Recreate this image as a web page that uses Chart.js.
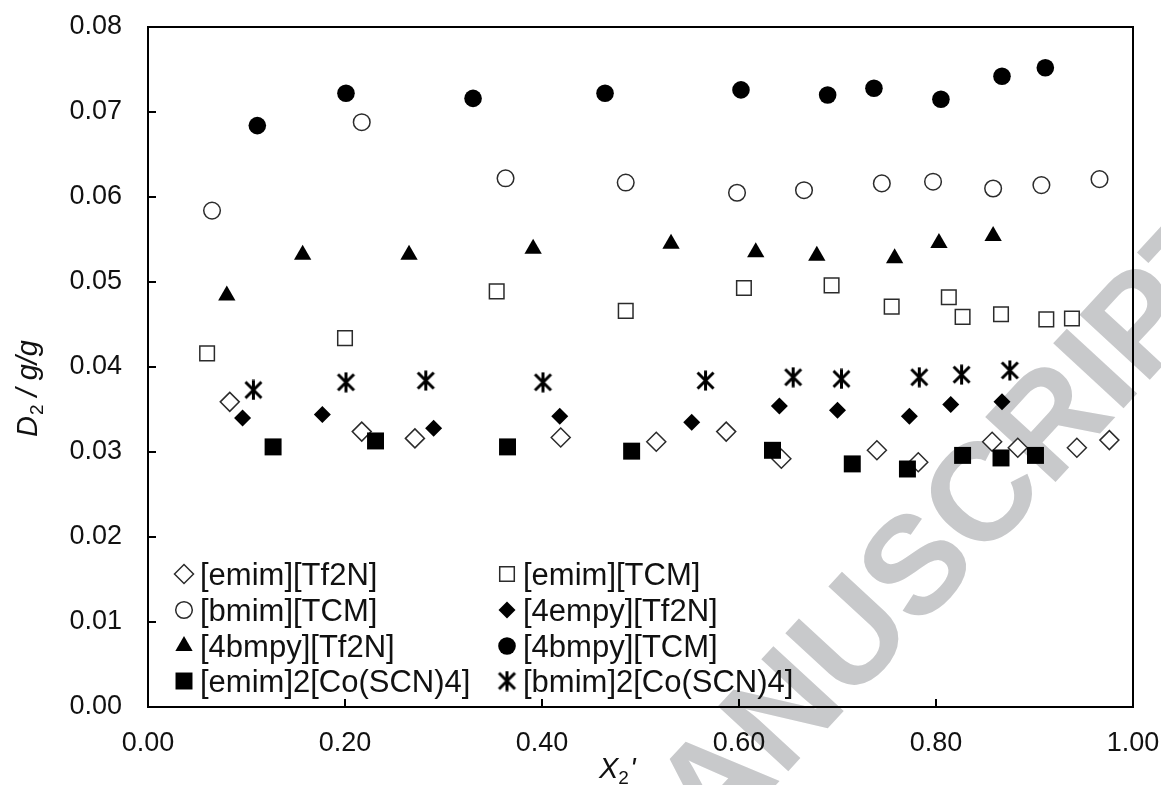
<!DOCTYPE html>
<html>
<head>
<meta charset="utf-8">
<title>D2 vs X2'</title>
<script src="https://cdn.jsdelivr.net/npm/chart.js@4.4.1/dist/chart.umd.min.js"></script>
<style>
  html, body { margin: 0; padding: 0; background: #fff; }
  #wrap { width: 1161px; height: 785px; position: relative; }
</style>
</head>
<body>
<div id="wrap"><canvas id="diffChart"></canvas></div>
<script>
// Legend names (same order as the legend, read row by row)
const seriesNames = ['[emim][Tf2N]', '[emim][TCM]', '[bmim][TCM]', '[4empy][Tf2N]',
                     '[4bmpy][Tf2N]', '[4bmpy][TCM]', '[emim]2[Co(SCN)4]', '[bmim]2[Co(SCN)4]'];

// Axis ticks
const xTicks = [0.00, 0.20, 0.40, 0.60, 0.80, 1.00];
const yTicks = [0.00, 0.01, 0.02, 0.03, 0.04, 0.05, 0.06, 0.07, 0.08];

// [emim][Tf2N]  open diamond
const emimTf2N_x = [0.083, 0.217, 0.271, 0.419, 0.516, 0.587, 0.643, 0.740, 0.782, 0.857, 0.883, 0.943, 0.976];
const emimTf2N_y = [0.0359, 0.0324, 0.0316, 0.0317, 0.0312, 0.0324, 0.0292, 0.0302, 0.0288, 0.0312, 0.0305, 0.0305, 0.0314];
// [emim][TCM]  open square
const emimTCM_x = [0.060, 0.200, 0.354, 0.485, 0.605, 0.694, 0.755, 0.813, 0.827, 0.866, 0.912, 0.938];
const emimTCM_y = [0.0416, 0.0434, 0.0489, 0.0466, 0.0493, 0.0496, 0.0471, 0.0482, 0.0459, 0.0462, 0.0456, 0.0457];
// [bmim][TCM]  open circle
const bmimTCM_x = [0.065, 0.217, 0.363, 0.485, 0.598, 0.666, 0.745, 0.797, 0.858, 0.907, 0.966];
const bmimTCM_y = [0.0584, 0.0688, 0.0622, 0.0617, 0.0605, 0.0608, 0.0616, 0.0618, 0.0610, 0.0614, 0.0621];
// [4empy][Tf2N]  filled diamond
const empyTf2N_x = [0.096, 0.177, 0.290, 0.418, 0.552, 0.641, 0.700, 0.773, 0.815, 0.867];
const empyTf2N_y = [0.0340, 0.0344, 0.0328, 0.0342, 0.0335, 0.0354, 0.0349, 0.0342, 0.0356, 0.0359];
// [4bmpy][Tf2N]  filled triangle
const bmpyTf2N_x = [0.080, 0.157, 0.265, 0.391, 0.531, 0.617, 0.679, 0.758, 0.803, 0.858];
const bmpyTf2N_y = [0.0484, 0.0532, 0.0532, 0.0539, 0.0545, 0.0535, 0.0531, 0.0528, 0.0546, 0.0554];
// [4bmpy][TCM]  filled circle
const bmpyTCM_x = [0.111, 0.201, 0.330, 0.464, 0.602, 0.690, 0.737, 0.805, 0.867, 0.911];
const bmpyTCM_y = [0.0684, 0.0722, 0.0716, 0.0722, 0.0726, 0.0720, 0.0728, 0.0715, 0.0742, 0.0752];
// [emim]2[Co(SCN)4]  filled square
const emimCo_x = [0.127, 0.231, 0.365, 0.491, 0.634, 0.715, 0.771, 0.827, 0.866, 0.901];
const emimCo_y = [0.0306, 0.0313, 0.0306, 0.0301, 0.0302, 0.0286, 0.0280, 0.0296, 0.0293, 0.0296];
// [bmim]2[Co(SCN)4]  asterisk
const bmimCo_x = [0.107, 0.201, 0.282, 0.401, 0.566, 0.655, 0.704, 0.783, 0.826, 0.875];
const bmimCo_y = [0.0373, 0.0382, 0.0384, 0.0382, 0.0384, 0.0388, 0.0386, 0.0388, 0.0391, 0.0396];

function pts(xs, ys) {
    return xs.map((x, i) => ({ x: x, y: ys[i] }));
}

// excel-like asterisk marker (X with a vertical bar)
function makeAsterisk(size, lw) {
    const c = document.createElement('canvas');
    c.width = size; c.height = size;
    const g = c.getContext('2d');
    g.strokeStyle = '#000';
    g.lineWidth = lw;
    const m = 2.5;
    g.beginPath();
    g.moveTo(m, m); g.lineTo(size - m, size - m);
    g.moveTo(size - m, m); g.lineTo(m, size - m);
    g.moveTo(size / 2, 0.5); g.lineTo(size / 2, size - 0.5);
    g.stroke();
    return c;
}
const asterisk = makeAsterisk(21, 3);

const OUT = '#2b2b2b';
const styles = [
    { pointStyle: 'rectRot', pointRadius: 9.5, backgroundColor: '#fff', borderColor: OUT, borderWidth: 1.5 },
    { pointStyle: 'rect', pointRadius: 10.3, backgroundColor: '#fff', borderColor: OUT, borderWidth: 1.5 },
    { pointStyle: 'circle', pointRadius: 8.3, backgroundColor: '#fff', borderColor: OUT, borderWidth: 1.5 },
    { pointStyle: 'rectRot', pointRadius: 8.5, backgroundColor: '#000', borderColor: '#000', borderWidth: 0 },
    { pointStyle: 'triangle', pointRadius: 10, backgroundColor: '#000', borderColor: '#000', borderWidth: 0 },
    { pointStyle: 'circle', pointRadius: 8.8, backgroundColor: '#000', borderColor: '#000', borderWidth: 0 },
    { pointStyle: 'rect', pointRadius: 12, backgroundColor: '#000', borderColor: '#000', borderWidth: 0 },
    { pointStyle: asterisk, pointRadius: 10, backgroundColor: '#000', borderColor: '#000', borderWidth: 0 }
];
const seriesData = [
    pts(emimTf2N_x, emimTf2N_y), pts(emimTCM_x, emimTCM_y), pts(bmimTCM_x, bmimTCM_y),
    pts(empyTf2N_x, empyTf2N_y), pts(bmpyTf2N_x, bmpyTf2N_y), pts(bmpyTCM_x, bmpyTCM_y),
    pts(emimCo_x, emimCo_y), pts(bmimCo_x, bmimCo_y)
];

const datasets = seriesNames.map((name, i) => Object.assign({
    label: name,
    data: seriesData[i],
    showLine: false,
    order: seriesNames.length - i,
    pointHoverRadius: styles[i].pointRadius
}, styles[i]));

const FONT = "'Liberation Sans', Arial, sans-serif";
Chart.defaults.font.family = FONT;
Chart.defaults.color = '#111';

// gray diagonal watermark behind everything
const watermark = {
    id: 'watermark',
    beforeDraw(chart) {
        const ctx = chart.ctx;
        ctx.save();
        ctx.font = 'bold 139px ' + FONT;
        ctx.fillStyle = 'rgb(200,201,203)';
        ctx.translate(748, 815);
        ctx.rotate(-47.3 * Math.PI / 180);
        const off = ctx.measureText('ACCEPTED M').width + ctx.measureText('A').width / 2;
        ctx.textBaseline = 'alphabetic';
        ctx.fillText('ACCEPTED MANUSCRIPT', -off, 0);
        ctx.restore();
    }
};

// box, inward ticks, axis titles and legend
const decor = {
    id: 'decor',
    afterDraw(chart) {
        const { ctx, chartArea: a, scales } = chart;
        ctx.save();
        ctx.strokeStyle = '#000';
        ctx.lineWidth = 2;
        ctx.strokeRect(a.left, a.top, a.right - a.left, a.bottom - a.top);
        ctx.beginPath();
        xTicks.slice(1, -1).forEach(v => {
            const px = Math.round(scales.x.getPixelForValue(v));
            ctx.moveTo(px, a.bottom); ctx.lineTo(px, a.bottom - 8);
        });
        yTicks.slice(1, -1).forEach(v => {
            const py = Math.round(scales.y.getPixelForValue(v));
            ctx.moveTo(a.left, py); ctx.lineTo(a.left + 8, py);
        });
        ctx.stroke();

        // y title: D2 / g/g
        ctx.fillStyle = '#111';
        ctx.textAlign = 'left';
        ctx.textBaseline = 'alphabetic';
        ctx.save();
        ctx.translate(37, 437);
        ctx.rotate(-Math.PI / 2);
        ctx.font = 'italic 29px ' + FONT;
        ctx.fillText('D', 0, 0);
        let w = ctx.measureText('D').width;
        ctx.font = '19px ' + FONT;
        ctx.fillText('2', w + 1, 6);
        w += ctx.measureText('2').width + 1;
        ctx.font = 'italic 29px ' + FONT;
        ctx.fillText(' / g/g', w, 0);
        ctx.restore();

        // x title: X2'
        ctx.font = 'italic 29px ' + FONT;
        ctx.fillText('X', 599, 778);
        let xw = 599 + ctx.measureText('X').width;
        ctx.font = '19px ' + FONT;
        ctx.fillText('2', xw, 784);
        xw += ctx.measureText('2').width;
        ctx.font = 'italic 29px ' + FONT;
        ctx.fillText("'", xw + 1, 778);

        // legend, two columns inside the plot
        const colMarker = [184, 507], colText = [200, 523];
        const rowY = [574, 610, 646, 681];
        chart.data.datasets.forEach((ds, i) => {
            const mx = colMarker[i % 2], my = rowY[Math.floor(i / 2)];
            ctx.fillStyle = ds.backgroundColor;
            ctx.strokeStyle = ds.borderColor;
            ctx.lineWidth = ds.borderWidth;
            Chart.helpers.drawPoint(ctx, {
                pointStyle: ds.pointStyle, radius: ds.pointRadius,
                rotation: 0, borderWidth: ds.borderWidth
            }, mx, my);
            ctx.fillStyle = '#111';
            ctx.font = '31px ' + FONT;
            ctx.textBaseline = 'middle';
            ctx.fillText(ds.label, colText[i % 2], my + 2);
        });
        ctx.restore();
    }
};

const diffChart = new Chart(document.getElementById('diffChart').getContext('2d'), {
    type: 'scatter',
    data: { datasets: datasets },
    options: {
        responsive: true,
        maintainAspectRatio: false,
        animation: false,
        layout: { padding: { left: 0, top: 27, right: 28, bottom: 0 } },
        plugins: { legend: { display: false }, tooltip: { enabled: false } },
        scales: {
            x: {
                type: 'linear', min: 0, max: 1,
                afterBuildTicks: s => { s.ticks = xTicks.map(v => ({ value: v })); },
                afterFit: s => { s.height = 78; s.paddingLeft = 0; s.paddingRight = 0; },
                grid: { display: false, drawTicks: false },
                border: { display: false },
                ticks: { font: { size: 27 }, padding: 20, maxRotation: 0, callback: v => v.toFixed(2) }
            },
            y: {
                type: 'linear', min: 0, max: 0.08,
                afterBuildTicks: s => { s.ticks = yTicks.map(v => ({ value: v })); },
                afterFit: s => { s.width = 148; s.paddingTop = 0; s.paddingBottom = 0; },
                grid: { display: false, drawTicks: false },
                border: { display: false },
                ticks: { font: { size: 27 }, padding: 26, callback: v => v.toFixed(2) }
            }
        }
    },
    plugins: [watermark, decor]
});
</script>
</body>
</html>
